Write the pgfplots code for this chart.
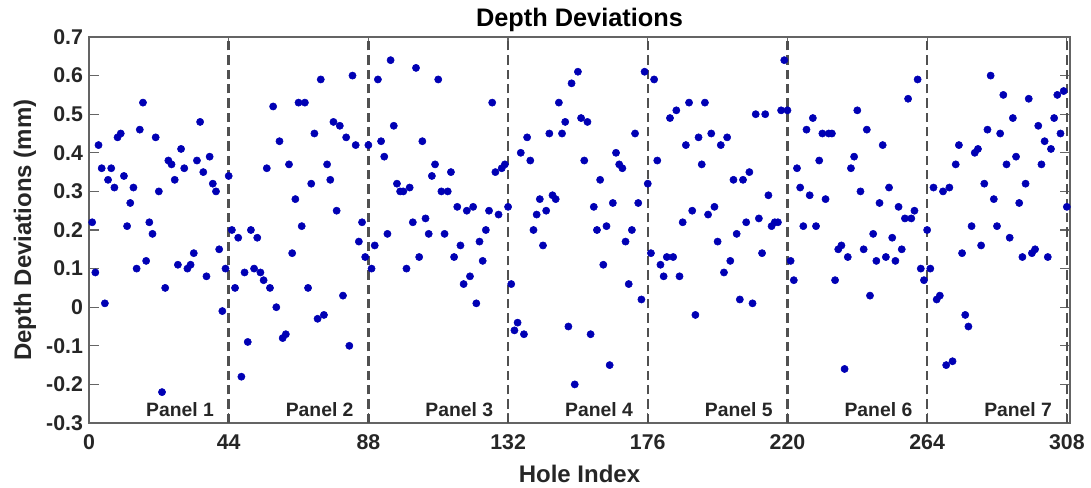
\documentclass[border=0pt]{standalone}
\usepackage{fontspec}
\setmainfont{Liberation Sans}
\usepackage{pgfplots}
\pgfplotsset{compat=1.18}
\definecolor{dotblue}{RGB}{0,0,180}
\definecolor{axgray}{RGB}{100,100,100}
\definecolor{txtgray}{RGB}{38,38,38}
\definecolor{dashgray}{RGB}{80,80,80}
\begin{document}
\begin{tikzpicture}
\path[use as bounding box] (-66.75pt,-48pt) rectangle (751.5pt,317.25pt);
\begin{axis}[
  at={(0pt,0pt)}, anchor=south west,
  scale only axis, width=735.75pt, height=289.5pt,
  xmin=0, xmax=309, ymin=-0.3, ymax=0.7,
  xtick={0,44,88,132,176,220,264,308},
  ytick={-0.3,-0.2,-0.1,0,0.1,0.2,0.3,0.4,0.5,0.6,0.7},
  yticklabels={-0.3,-0.2,-0.1,0,0.1,0.2,0.3,0.4,0.5,0.6,0.7},
  xticklabels={0,44,88,132,176,220,264,308},
  tick align=inside, xtick pos=both, ytick pos=both,
  major tick length=7.5pt,
  axis line style={axgray, line width=0.9pt},
  every tick/.style={axgray, line width=0.9pt},
  tick label style={font=\bfseries\fontsize{16}{16}\selectfont, text=txtgray},
  xticklabel style={yshift=-5pt},
  yticklabel style={xshift=-1pt},
  title={Depth Deviations},
  every axis title/.style={font=\bfseries\fontsize{19}{19}\selectfont, text=black, at={(axis description cs:0.5,1.045)}, anchor=center},
  xlabel={Hole Index},
  ylabel={Depth Deviations (mm)},
  every axis x label/.style={at={(axis description cs:0.5,-0.133)}, anchor=center, font=\bfseries\fontsize{18}{18}\selectfont, text=txtgray},
  every axis y label/.style={at={(axis description cs:-0.0652,0.5)}, anchor=center, rotate=90, font=\bfseries\fontsize{18}{18}\selectfont, text=txtgray},
  clip=false,
]
\addplot[dashgray, line width=1.9pt, dash pattern=on 7pt off 3.75pt] coordinates {(44,-0.3) (44,0.7)};
\addplot[dashgray, line width=1.9pt, dash pattern=on 7pt off 3.75pt] coordinates {(88,-0.3) (88,0.7)};
\addplot[dashgray, line width=1.9pt, dash pattern=on 7pt off 3.75pt] coordinates {(132,-0.3) (132,0.7)};
\addplot[dashgray, line width=1.9pt, dash pattern=on 7pt off 3.75pt] coordinates {(176,-0.3) (176,0.7)};
\addplot[dashgray, line width=1.9pt, dash pattern=on 7pt off 3.75pt] coordinates {(220,-0.3) (220,0.7)};
\addplot[dashgray, line width=1.9pt, dash pattern=on 7pt off 3.75pt] coordinates {(264,-0.3) (264,0.7)};
\addplot[dashgray, line width=1.9pt, dash pattern=on 7pt off 3.75pt] coordinates {(308,-0.3) (308,0.7)};
\addplot[only marks, mark=*, mark size=2.7pt, dotblue, mark options={fill=dotblue, draw=dotblue}] coordinates {
(1,0.22) (2,0.09) (3,0.42) (4,0.36) (5,0.01) (6,0.33) (7,0.36) (8,0.31) (9,0.44) (10,0.45) (11,0.34)
(12,0.21) (13,0.27) (14,0.31) (15,0.10) (16,0.46) (17,0.53) (18,0.12) (19,0.22) (20,0.19) (21,0.44) (22,0.30)
(23,-0.22) (24,0.05) (25,0.38) (26,0.37) (27,0.33) (28,0.11) (29,0.41) (30,0.36) (31,0.10) (32,0.11) (33,0.14)
(34,0.38) (35,0.48) (36,0.35) (37,0.08) (38,0.39) (39,0.32) (40,0.30) (41,0.15) (42,-0.01) (43,0.10) (44,0.34)
(45,0.20) (46,0.05) (47,0.18) (48,-0.18) (49,0.09) (50,-0.09) (51,0.20) (52,0.10) (53,0.18) (54,0.09) (55,0.07)
(56,0.36) (57,0.05) (58,0.52) (59,0.00) (60,0.43) (61,-0.08) (62,-0.07) (63,0.37) (64,0.14) (65,0.28) (66,0.53)
(67,0.21) (68,0.53) (69,0.05) (70,0.32) (71,0.45) (72,-0.03) (73,0.59) (74,-0.02) (75,0.37) (76,0.33) (77,0.48)
(78,0.25) (79,0.47) (80,0.03) (81,0.44) (82,-0.10) (83,0.60) (84,0.42) (85,0.17) (86,0.22) (87,0.13) (88,0.42)
(89,0.10) (90,0.16) (91,0.59) (92,0.43) (93,0.39) (94,0.19) (95,0.64) (96,0.47) (97,0.32) (98,0.30) (99,0.30)
(100,0.10) (101,0.31) (102,0.22) (103,0.62) (104,0.13) (105,0.43) (106,0.23) (107,0.19) (108,0.34) (109,0.37) (110,0.59)
(111,0.30) (112,0.19) (113,0.30) (114,0.35) (115,0.13) (116,0.26) (117,0.16) (118,0.06) (119,0.25) (120,0.08) (121,0.26)
(122,0.01) (123,0.17) (124,0.12) (125,0.20) (126,0.25) (127,0.53) (128,0.35) (129,0.24) (130,0.36) (131,0.37) (132,0.26)
(133,0.06) (134,-0.06) (135,-0.04) (136,0.40) (137,-0.07) (138,0.44) (139,0.38) (140,0.20) (141,0.24) (142,0.28) (143,0.16)
(144,0.25) (145,0.45) (146,0.29) (147,0.28) (148,0.53) (149,0.45) (150,0.48) (151,-0.05) (152,0.58) (153,-0.20) (154,0.61)
(155,0.49) (156,0.38) (157,0.48) (158,-0.07) (159,0.26) (160,0.20) (161,0.33) (162,0.11) (163,0.21) (164,-0.15) (165,0.27)
(166,0.40) (167,0.37) (168,0.36) (169,0.17) (170,0.06) (171,0.20) (172,0.45) (173,0.27) (174,0.02) (175,0.61) (176,0.32)
(177,0.14) (178,0.59) (179,0.38) (180,0.11) (181,0.08) (182,0.13) (183,0.49) (184,0.13) (185,0.51) (186,0.08) (187,0.22)
(188,0.42) (189,0.53) (190,0.25) (191,-0.02) (192,0.44) (193,0.37) (194,0.53) (195,0.24) (196,0.45) (197,0.26) (198,0.17)
(199,0.42) (200,0.09) (201,0.44) (202,0.12) (203,0.33) (204,0.19) (205,0.02) (206,0.33) (207,0.22) (208,0.35) (209,0.01)
(210,0.50) (211,0.23) (212,0.14) (213,0.50) (214,0.29) (215,0.21) (216,0.22) (217,0.22) (218,0.51) (219,0.64) (220,0.51)
(221,0.12) (222,0.07) (223,0.36) (224,0.31) (225,0.21) (226,0.46) (227,0.29) (228,0.49) (229,0.21) (230,0.38) (231,0.45)
(232,0.28) (233,0.45) (234,0.45) (235,0.07) (236,0.15) (237,0.16) (238,-0.16) (239,0.13) (240,0.36) (241,0.39) (242,0.51)
(243,0.30) (244,0.15) (245,0.46) (246,0.03) (247,0.19) (248,0.12) (249,0.27) (250,0.42) (251,0.13) (252,0.31) (253,0.18)
(254,0.12) (255,0.26) (256,0.15) (257,0.23) (258,0.54) (259,0.23) (260,0.25) (261,0.59) (262,0.10) (263,0.07) (264,0.20)
(265,0.10) (266,0.31) (267,0.02) (268,0.03) (269,0.30) (270,-0.15) (271,0.31) (272,-0.14) (273,0.37) (274,0.42) (275,0.14)
(276,-0.02) (277,-0.05) (278,0.21) (279,0.40) (280,0.41) (281,0.16) (282,0.32) (283,0.46) (284,0.60) (285,0.28) (286,0.21)
(287,0.45) (288,0.55) (289,0.37) (290,0.18) (291,0.49) (292,0.39) (293,0.27) (294,0.13) (295,0.32) (296,0.54) (297,0.14)
(298,0.15) (299,0.47) (300,0.37) (301,0.43) (302,0.13) (303,0.41) (304,0.49) (305,0.55) (306,0.45) (307,0.56) (308,0.26)
};
\node[anchor=east, font=\bfseries\fontsize{14.5}{14.5}\selectfont, text=txtgray] at (axis cs:40.8,-0.265) {Panel 1};
\node[anchor=east, font=\bfseries\fontsize{14.5}{14.5}\selectfont, text=txtgray] at (axis cs:84.8,-0.265) {Panel 2};
\node[anchor=east, font=\bfseries\fontsize{14.5}{14.5}\selectfont, text=txtgray] at (axis cs:128.8,-0.265) {Panel 3};
\node[anchor=east, font=\bfseries\fontsize{14.5}{14.5}\selectfont, text=txtgray] at (axis cs:172.8,-0.265) {Panel 4};
\node[anchor=east, font=\bfseries\fontsize{14.5}{14.5}\selectfont, text=txtgray] at (axis cs:216.8,-0.265) {Panel 5};
\node[anchor=east, font=\bfseries\fontsize{14.5}{14.5}\selectfont, text=txtgray] at (axis cs:260.8,-0.265) {Panel 6};
\node[anchor=east, font=\bfseries\fontsize{14.5}{14.5}\selectfont, text=txtgray] at (axis cs:304.8,-0.265) {Panel 7};
\end{axis}
\end{tikzpicture}
\end{document}
